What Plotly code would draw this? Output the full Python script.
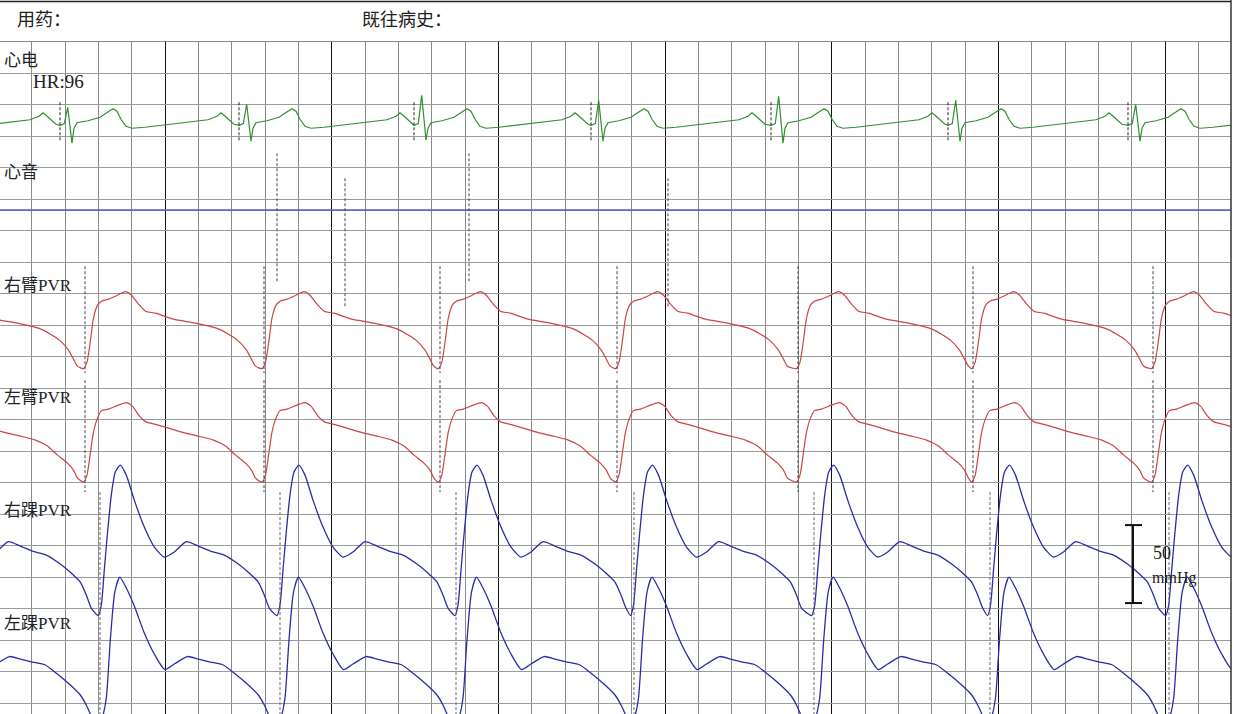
import plotly.graph_objects as go

# ---------------- data (pixel-like units) ----------------
# beat onsets (first entry = partially visible beat before the left edge)
ecg_beats = [-118, 60, 239, 414, 591, 771, 948, 1128]
ecg_r_peaks = [104, 107, 104, 95, 100, 96, 100, 104]
ecg_s_troughs = [141, 143, 141, 140, 141, 143, 141, 141]
ecg_dx = [0, 4.3, 7.7, 12, 14, 17, 28, 40, 49, 53, 57, 61, 66, 72, 85, 105, 130, 148, 157, 161, 164, 169, 174]
ecg_y = [125, 123.3, None, None, 128, 122.5, 120.5, 117, 111, 108.5, 111, 119, 126, 128, 127, 124.5, 122, 119.5, 116, 112.5, 115, 120, 124]

arm_beats = [-94.5, 83.5, 262, 438.3, 615.5, 796.5, 971.7, 1151.5]
ra_dx = [0, 3.5, 7, 10, 14, 18, 25, 33, 42, 48, 55, 62, 72, 90, 112, 133, 145, 154, 163, 168, 172]
ra_y = [368.5, 362, 340, 318, 305, 301, 299, 295.5, 291.5, 295, 304, 311, 313, 319, 323, 328, 334, 340, 350, 359, 366]
la_dx = [0, 3.5, 7, 10, 14, 18, 25, 35, 43, 49, 56, 62, 73, 85, 100, 115, 130, 142, 152, 162, 168, 172]
la_y = [482, 475, 452, 432, 418, 410.5, 409, 405, 402.5, 406, 416, 421.5, 424.5, 428, 432.5, 436, 440, 446, 455, 463, 470, 478]

ankle_beats = [-79.7, 98.3, 277, 455, 630.5, 811.7, 987.5, 1165.7]
rank_dx = [0, 3, 6, 9, 13, 17, 22, 28, 36, 46, 56, 66, 76, 88, 100, 112, 126, 140, 152, 160, 166, 171]
rank_y = [615.5, 605, 570, 535, 495, 472, 465, 475, 500, 527, 547, 557, 552, 541.5, 546, 551, 555, 564, 574, 582, 595, 608]
lank_dx = [0, 4, 8, 12, 16.5, 21.5, 28, 36, 46, 56, 66.5, 76, 89, 100, 112, 125, 137, 150, 160, 166, 171]
lank_y = [728, 718, 698, 640, 592, 577, 588, 606, 633, 654, 669.5, 664, 656.5, 659, 662, 665, 674, 685, 695, 705, 716]

heart_sound_x = [0, 1231]
heart_sound_y = [210, 210]

# event markers
ecg_marks = [60, 239, 414, 591, 771, 948, 1128]
ecg_mark_span = [102, 140]
sound_marks = [277, 345, 469, 668]
sound_mark_top = [153, 178, 153, 178]
sound_mark_bottom = [283, 307, 282, 307]
arm_marks = [85, 264, 440, 617, 798, 973, 1153]
ra_mark_span = [266, 373]
la_mark_span = [380, 492]
ankle_marks = [100, 280, 456, 634, 814, 990, 1169]
ankle_mark_span = [492, 714]

# calibration bar (50 mmHg)
cal_x = 1133
cal_span = [525, 603]
cal_cap = [1125, 1142]

labels = ["心电", "心音", "右臂PVR", "左臂PVR", "右踝PVR", "左踝PVR"]
label_y = [60, 172.7, 285, 397, 510, 623]
hr_text = "HR:96"
header_texts = ["用药：", "既往病史："]
header_x = [15, 360]

# ---------------- helpers ----------------
def compose(beats, dx, y, r=None, s=None):
    xs, ys = [], []
    for i, b in enumerate(beats):
        for j, (d, v) in enumerate(zip(dx, y)):
            if v is None:
                v = r[i] if j == 2 else s[i]
            xs.append(b + d)
            ys.append(v)
    return xs, ys

def segments(xs, tops, bottoms):
    X, Y = [], []
    for x, t, b in zip(xs, tops, bottoms):
        X += [x, x, None]
        Y += [t, b, None]
    return X, Y

fig = go.Figure()

# heart sound baseline
fig.add_trace(go.Scatter(x=heart_sound_x, y=heart_sound_y, mode="lines",
                         line=dict(color="#6262c4", width=1.8), hoverinfo="skip"))

# ECG
ex, ey = compose(ecg_beats, ecg_dx, ecg_y, ecg_r_peaks, ecg_s_troughs)
fig.add_trace(go.Scatter(x=ex, y=ey, mode="lines", line=dict(color="#2f8f2f", width=1.2)))

# arms
x1, y1 = compose(arm_beats, ra_dx, ra_y)
fig.add_trace(go.Scatter(x=x1, y=y1, mode="lines",
                         line=dict(color="#cc4444", width=1.2, shape="spline", smoothing=0.6)))
x2, y2 = compose(arm_beats, la_dx, la_y)
fig.add_trace(go.Scatter(x=x2, y=y2, mode="lines",
                         line=dict(color="#cc4444", width=1.2, shape="spline", smoothing=0.6)))

# ankles
x3, y3 = compose(ankle_beats, rank_dx, rank_y)
fig.add_trace(go.Scatter(x=x3, y=y3, mode="lines",
                         line=dict(color="#2b2baa", width=1.3, shape="spline", smoothing=0.6)))
x4, y4 = compose(ankle_beats, lank_dx, lank_y)
fig.add_trace(go.Scatter(x=x4, y=y4, mode="lines",
                         line=dict(color="#2b2baa", width=1.3, shape="spline", smoothing=0.6)))

# dashed event markers
n = len(ecg_marks)
mx, my = segments(ecg_marks, [ecg_mark_span[0]] * n, [ecg_mark_span[1]] * n)
fig.add_trace(go.Scatter(x=mx, y=my, mode="lines", line=dict(color="#222", width=1, dash="3px,2px")))
mx, my = segments(sound_marks, sound_mark_top, sound_mark_bottom)
fig.add_trace(go.Scatter(x=mx, y=my, mode="lines", line=dict(color="#444", width=1, dash="3px,2px")))
n = len(arm_marks)
mx, my = segments(arm_marks + arm_marks, [ra_mark_span[0]] * n + [la_mark_span[0]] * n,
                  [ra_mark_span[1]] * n + [la_mark_span[1]] * n)
fig.add_trace(go.Scatter(x=mx, y=my, mode="lines", line=dict(color="#444", width=1, dash="3px,2px")))
n = len(ankle_marks)
mx, my = segments(ankle_marks, [ankle_mark_span[0]] * n, [ankle_mark_span[1]] * n)
fig.add_trace(go.Scatter(x=mx, y=my, mode="lines", line=dict(color="#666", width=1, dash="3px,2px")))

# calibration bar
fig.add_trace(go.Scatter(
    x=[cal_x, cal_x, None, cal_cap[0], cal_cap[1], None, cal_cap[0], cal_cap[1]],
    y=[cal_span[0], cal_span[1], None, cal_span[0], cal_span[0], None, cal_span[1], cal_span[1]],
    mode="lines", line=dict(color="#111", width=2)))

font_fam = "Liberation Serif, Noto Sans CJK SC, sans-serif"
ann = []
for t, yy in zip(labels, label_y):
    ann.append(dict(x=2, y=yy, xref="x", yref="y", text=t, showarrow=False,
                    xanchor="left", yanchor="middle", font=dict(size=17, color="#222", family=font_fam)))
ann.append(dict(x=31, y=81.7, xref="x", yref="y", text=hr_text, showarrow=False,
                xanchor="left", yanchor="middle", font=dict(size=19, color="#222", family=font_fam)))
ann.append(dict(x=1151, y=553, xref="x", yref="y", text="50", showarrow=False,
                xanchor="left", yanchor="middle", font=dict(size=18, color="#222", family=font_fam)))
ann.append(dict(x=1150, y=578, xref="x", yref="y", text="mmHg", showarrow=False,
                xanchor="left", yanchor="middle", font=dict(size=16, color="#222", family=font_fam)))
PLOT_TOP = 42
H = 714
def paper_y(p):
    return (H - p) / (H - PLOT_TOP)
for t, xx in zip(header_texts, header_x):
    ann.append(dict(x=xx, y=paper_y(20), xref="x", yref="paper", text=t, showarrow=False,
                    xanchor="left", yanchor="middle", font=dict(size=18, color="#222", family=font_fam)))

shapes = [
    dict(type="line", xref="paper", yref="paper", x0=0, x1=1, y0=paper_y(1.5), y1=paper_y(1.5),
         line=dict(color="#222", width=1.5)),
    dict(type="line", xref="paper", yref="paper", x0=1, x1=1, y0=0, y1=paper_y(0),
         line=dict(color="#333", width=1.5)),
]

fig.update_layout(
    width=1234, height=714,
    margin=dict(l=0, r=3, t=PLOT_TOP, b=0),
    paper_bgcolor="white", plot_bgcolor="white",
    showlegend=False,
    annotations=ann, shapes=shapes,
    xaxis=dict(range=[0, 1231], showticklabels=False, ticks="", zeroline=False,
               tick0=-1.5, dtick=166.667, showgrid=True, gridcolor="#111", gridwidth=1,
               minor=dict(tick0=-1.5, dtick=33.3333, showgrid=True, gridcolor="#8a8a8a", gridwidth=1),
               showline=True, linecolor="#8a8a8a", linewidth=1, mirror=True),
    yaxis=dict(range=[714, 41.7], showticklabels=False, ticks="", zeroline=False,
               tick0=41.7, dtick=31.5, showgrid=True, gridcolor="#9a9a9a", gridwidth=1),
)

fig.write_html("out.html", config={"displayModeBar": False},
               post_script="document.body.style.margin='0';document.body.style.overflow='hidden';")
